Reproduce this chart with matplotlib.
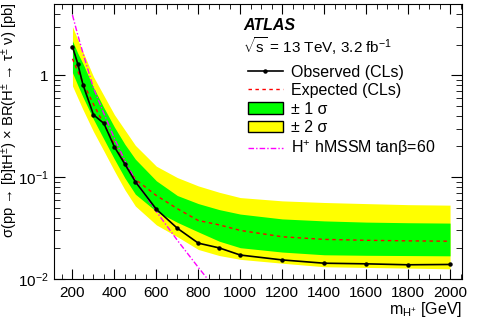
import numpy as np
import matplotlib
matplotlib.use("Agg")
import matplotlib.pyplot as plt
from matplotlib.ticker import MultipleLocator, LogLocator, FuncFormatter, NullFormatter
from matplotlib.patches import Patch
from matplotlib.lines import Line2D

plt.rcParams['font.family'] = ['Liberation Sans', 'DejaVu Sans']
plt.rcParams['mathtext.fontset'] = 'custom'
plt.rcParams['mathtext.rm'] = 'Liberation Sans'
plt.rcParams['mathtext.it'] = 'Liberation Sans:italic'
plt.rcParams['mathtext.bf'] = 'Liberation Sans:bold'

# charged Higgs mass points [GeV]
mass = [200, 225, 250, 300, 350, 400, 450, 500, 600, 700, 800, 900, 1000,
        1200, 1400, 1600, 1800, 2000]
# limits [pb]
observed = [1.91, 1.30, 0.81, 0.41, 0.336, 0.198, 0.134, 0.090, 0.0484, 0.0315,
            0.0225, 0.0202, 0.0172, 0.0154, 0.0143, 0.0141, 0.0138, 0.0139]
expected = [1.45, 1.10, 0.85, 0.52, 0.33, 0.21, 0.135, 0.095, 0.066, 0.049,
            0.0375, 0.034, 0.030, 0.026, 0.0245, 0.024, 0.0237, 0.0235]
# bands
sig1_lo = [1.06, 0.80, 0.61, 0.37, 0.235, 0.15, 0.098, 0.068, 0.046, 0.036,
           0.029, 0.0235, 0.0203, 0.0184, 0.0173, 0.0171, 0.0170, 0.0169]
sig1_hi = [2.17, 1.65, 1.30, 0.76, 0.48, 0.31, 0.21, 0.15, 0.092, 0.066,
           0.055, 0.048, 0.0434, 0.0389, 0.0372, 0.0362, 0.0357, 0.0354]
sig2_lo = [0.785, 0.60, 0.46, 0.28, 0.18, 0.115, 0.075, 0.052, 0.034, 0.026,
           0.0195, 0.017, 0.0156, 0.0143, 0.0132, 0.0130, 0.0128, 0.0126]
sig2_hi = [3.0, 2.25, 1.70, 0.97, 0.63, 0.41, 0.29, 0.205, 0.128, 0.099,
           0.082, 0.071, 0.063, 0.0585, 0.0564, 0.055, 0.0537, 0.0531]
# hMSSM prediction, tan(beta)=60
mass_th = [200, 225, 250, 300, 350, 400, 450, 500, 600, 700, 800, 900]
xsec_th = [3.9, 2.5, 1.65, 0.75, 0.42, 0.24, 0.145, 0.093, 0.046, 0.024,
           0.013, 0.0072]

fig = plt.figure(figsize=(4.8, 3.2), dpi=100)
ax = fig.add_axes([0.1125, 0.128, 0.85, 0.8595])

ax.fill_between(mass, sig2_lo, sig2_hi, color='#ffff00', lw=0)
ax.fill_between(mass, sig1_lo, sig1_hi, color='#00ff00', lw=0)
ax.plot(mass, expected, color='#ff0000', lw=1.0, ls=(0, (2.5, 2.5)))
ax.plot(mass_th, xsec_th, color='#ff00ff', lw=1.0, ls=(0, (4, 1.5, 1, 1.5)))
ax.plot(mass, observed, color='k', lw=1.2, marker='o', ms=2.2)

ax.set_yscale('log')
ax.set_xlim(112, 2057)
ax.set_ylim(0.01, 5)

ax.xaxis.set_major_locator(MultipleLocator(200))
ax.xaxis.set_minor_locator(MultipleLocator(50))
ax.yaxis.set_major_locator(LogLocator(base=10))
ax.yaxis.set_minor_locator(LogLocator(base=10, subs=np.arange(2, 10)))
ax.yaxis.set_minor_formatter(NullFormatter())


def yfmt(v, pos):
    e = int(round(np.log10(v)))
    if e == 0:
        return '1'
    return r'$\mathregular{10^{%d}}$' % e


ax.yaxis.set_major_formatter(FuncFormatter(yfmt))
ax.tick_params(which='both', direction='in', top=True, right=True, labelsize=11)
ax.tick_params(axis='y', which='major', length=8, pad=4)
ax.tick_params(axis='y', which='minor', length=4.5)
ax.tick_params(axis='x', which='major', length=7, pad=5)
ax.tick_params(axis='x', which='minor', length=3.5)

ax.set_xlabel(r'm$_{\mathregular{H^{+}}}$ [GeV]', fontsize=11.5, loc='right', labelpad=0)
ax.yaxis.set_label_coords(-0.108, 1.005)
ax.set_ylabel(r'σ(pp → [b]tH$^{\mathregular{\pm}}$) × BR(H$^{\mathregular{\pm}}$ → τ$^{\mathregular{\pm}}$ ν) [pb]',
              fontsize=10.6, ha='right', va='center')

ax.text(0.463, 0.922, 'ATLAS', transform=ax.transAxes, fontsize=11.5,
        fontweight='bold', fontstyle='italic', va='center')
ax.text(0.463, 0.847, r'$\sqrt{\mathregular{s}}$ = 13 TeV, 3.2 fb$^{\mathregular{-1}}$',
        transform=ax.transAxes, fontsize=11, va='center')

handles = [
    Line2D([], [], color='k', lw=1.2, marker='o', ms=2.2),
    Line2D([], [], color='#ff0000', lw=1.0, ls=(0, (2.5, 2.5))),
    Patch(facecolor='#00ff00', edgecolor='k', lw=1.0),
    Patch(facecolor='#ffff00', edgecolor='k', lw=1.0),
    Line2D([], [], color='#ff00ff', lw=1.0, ls=(0, (4, 1.5, 1, 1.5))),
]
labels = ['Observed (CLs)', 'Expected (CLs)', '± 1 σ', '± 2 σ',
          r'H$^{\mathregular{+}}$ hMSSM tanβ=60']
ax.legend(handles, labels, loc='upper left', bbox_to_anchor=(0.475, 0.78),
          frameon=False, fontsize=11.5, handlelength=2.2, handletextpad=0.5,
          labelspacing=0.22, borderpad=0, borderaxespad=0, numpoints=1)

fig.savefig('out.png', dpi=100)
